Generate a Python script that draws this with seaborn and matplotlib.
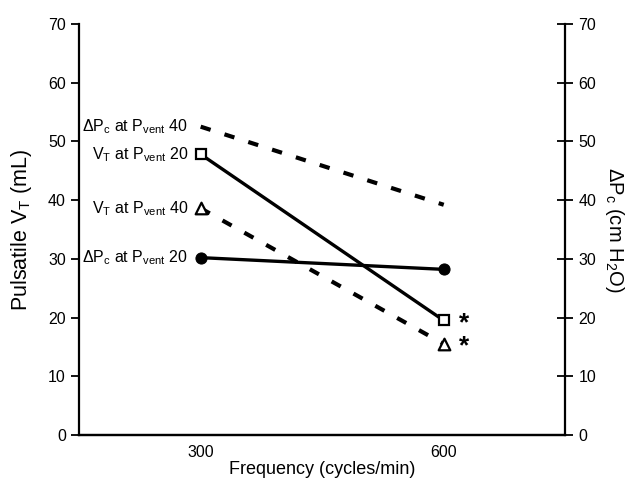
import matplotlib
matplotlib.use("Agg")
import matplotlib.pyplot as plt
import pandas as pd
import seaborn as sns

# values
freq = [300, 600]
vt_20 = [47.8, 19.5]      # V_T at Pvent 20 (mL), open square, solid
vt_40 = [38.6, 15.5]      # V_T at Pvent 40 (mL), open triangle, dashed
dpc_20 = [30.2, 28.2]     # dPc at Pvent 20 (cm H2O), filled circle, solid
dpc_40 = [52.5, 39.2]     # dPc at Pvent 40 (cm H2O), no marker, dashed

labels = {
    "vt20": r"V$_T$ at P$_{vent}$ 20",
    "vt40": r"V$_T$ at P$_{vent}$ 40",
    "dpc20": r"ΔP$_c$ at P$_{vent}$ 20",
    "dpc40": r"ΔP$_c$ at P$_{vent}$ 40",
}

sns.set_style("white")
plt.rcParams["font.family"] = ["Liberation Sans", "DejaVu Sans"]
plt.rcParams["mathtext.default"] = "regular"
for k in ["text.color", "axes.labelcolor", "xtick.color", "ytick.color",
          "axes.edgecolor"]:
    plt.rcParams[k] = "black"

fig = plt.figure(figsize=(6.33, 4.78), dpi=100)
ax = fig.add_axes([0.125, 0.09, 0.768, 0.86])
ax2 = ax.twinx()

# left axis series
df_vt = pd.DataFrame({"freq": freq, "vt20": vt_20, "vt40": vt_40})
sns.lineplot(data=df_vt, x="freq", y="vt20", ax=ax, color="black", lw=2.4,
             marker="s", markersize=7, markerfacecolor="white",
             markeredgecolor="black", markeredgewidth=1.6)
sns.lineplot(data=df_vt, x="freq", y="vt40", ax=ax, color="black", lw=3,
             linestyle=(0, (2.5, 3.5)))
sns.scatterplot(data=df_vt, x="freq", y="vt40", ax=ax, marker="^", s=70,
                facecolor="white", edgecolor="black", linewidth=1.6, zorder=5)

# right axis series
df_dpc = pd.DataFrame({"freq": freq, "dpc20": dpc_20, "dpc40": dpc_40})
sns.lineplot(data=df_dpc, x="freq", y="dpc20", ax=ax2, color="black", lw=2.4,
             marker="o", markersize=8, markerfacecolor="black",
             markeredgecolor="black")
sns.lineplot(data=df_dpc, x="freq", y="dpc40", ax=ax2, color="black", lw=3,
             linestyle=(0, (2.5, 3.5)))

# series labels at 300
for key, vals, axis in [("vt20", vt_20, ax), ("vt40", vt_40, ax),
                        ("dpc20", dpc_20, ax2), ("dpc40", dpc_40, ax2)]:
    axis.annotate(labels[key], xy=(freq[0], vals[0]), xytext=(-9, 0),
                  textcoords="offset points", ha="right", va="center",
                  fontsize=11.5)

# significance stars
for v in [vt_20[1], vt_40[1]]:
    ax.annotate("*", xy=(freq[1], v), xytext=(11, -2), textcoords="offset points",
                ha="left", va="center", fontsize=19, fontweight="bold")

for a in (ax, ax2):
    a.set_xlim(150, 750)
    a.set_ylim(0, 70)
    a.set_yticks(range(0, 71, 10))
    a.spines["top"].set_visible(False)
    a.spines["left"].set_linewidth(1.6)
    a.spines["right"].set_linewidth(1.6)
    a.spines["bottom"].set_linewidth(1.6)

ax.set_xticks([450])
ax.set_xticklabels([""])
ax.set_xticks([300, 600], minor=True)
ax.set_xticklabels(["300", "600"], minor=True, fontsize=11.5)
ax.tick_params(axis="x", which="major", direction="out", length=6, width=1.3)
ax.tick_params(axis="x", which="minor", length=0, pad=7)
ax.tick_params(axis="y", direction="out", length=6, width=1.3, labelsize=11.5,
               left=True)
ax.spines["right"].set_visible(False)

ax2.spines["left"].set_visible(False)
ax2.tick_params(axis="y", direction="inout", length=12, width=1.3,
                labelsize=11.5, right=True)
ax2.set_xticks([])

ax.set_xlabel("Frequency (cycles/min)", fontsize=13, labelpad=1)
ax.set_ylabel(r"Pulsatile V$_T$ (mL)", fontsize=15.5, labelpad=10)
ax2.set_ylabel(r"ΔP$_c$ (cm H$_2$O)", fontsize=14.5, rotation=270, labelpad=21)

plt.savefig("out.png", dpi=100)
